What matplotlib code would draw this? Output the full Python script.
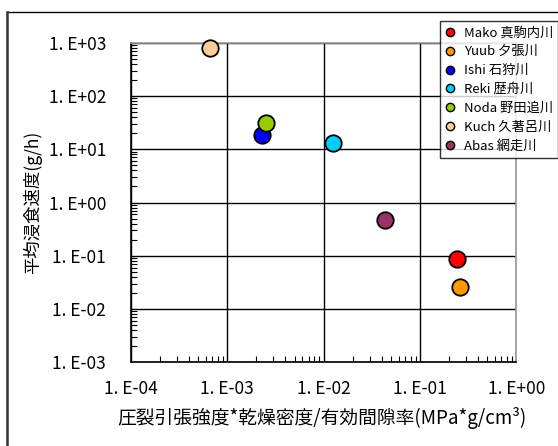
import matplotlib
matplotlib.use("Agg")
import matplotlib.pyplot as plt
from matplotlib.lines import Line2D
from matplotlib.ticker import FixedLocator, LogLocator, NullFormatter

plt.rcParams['font.family'] = ['Noto Sans CJK JP', 'DejaVu Sans']

# River sites: code, name, x value (MPa*g/cm3), mean erosion rate (g/h), colour
codes = ["Mako", "Yuub", "Ishi", "Reki", "Noda", "Kuch", "Abas"]
names = ["真駒内川", "夕張川", "石狩川", "歴舟川", "野田追川", "久著呂川", "網走川"]
strength_index = [0.241, 0.261, 0.00231, 0.0124, 0.0025, 0.00066, 0.043]
erosion_rate = [0.087, 0.0256, 18.5, 13.3, 30.7, 785.0, 0.47]
colors = ["#FF0000", "#FF9900", "#0000FF", "#00CCFF", "#99CC00", "#FFCC99", "#993366"]

x_ticks = [1e-4, 1e-3, 1e-2, 1e-1, 1e0]
x_tick_labels = ["1. E-04", "1. E-03", "1. E-02", "1. E-01", "1. E+00"]
y_ticks = [1e-3, 1e-2, 1e-1, 1e0, 1e1, 1e2, 1e3]
y_tick_labels = ["1. E-03", "1. E-02", "1. E-01", "1. E+00", "1. E+01", "1. E+02", "1. E+03"]

W, H = 558, 446
fig = plt.figure(figsize=(W / 100, H / 100), dpi=100)
ax = fig.add_axes([131 / W, 1 - 362.3 / H, (516.3 - 131) / W, (362.3 - 42.7) / H])

ax.set_xscale("log")
ax.set_yscale("log")
ax.set_xlim(x_ticks[0], x_ticks[-1])
ax.set_ylim(y_ticks[0], y_ticks[-1])

ax.xaxis.set_major_locator(FixedLocator(x_ticks))
ax.yaxis.set_major_locator(FixedLocator(y_ticks))
ax.set_xticklabels(x_tick_labels)
ax.set_yticklabels(y_tick_labels)
ax.xaxis.set_minor_locator(LogLocator(base=10, subs=range(2, 10), numticks=20))
ax.yaxis.set_minor_locator(LogLocator(base=10, subs=range(2, 10), numticks=20))
ax.xaxis.set_minor_formatter(NullFormatter())
ax.yaxis.set_minor_formatter(NullFormatter())

ax.tick_params(which="both", direction="in", colors="black", labelsize=12.5)
ax.tick_params(which="major", length=0)
ax.tick_params(which="minor", length=4, width=0.8)
ax.tick_params(axis="y", which="major", pad=18)
ax.tick_params(axis="x", which="major", pad=13)

ax.grid(True, which="major", color="black", linewidth=1.0)
ax.set_axisbelow(True)

for side in ("left", "bottom"):
    ax.spines[side].set_color("black")
    ax.spines[side].set_linewidth(1.2)
for side in ("top", "right"):
    ax.spines[side].set_color("#999999")
    ax.spines[side].set_linewidth(1.2)

for code, name, xv, yv, c in zip(codes, names, strength_index, erosion_rate, colors):
    ax.scatter([xv], [yv], s=140, color=c, edgecolor="black", linewidth=1.3,
               zorder=3, label=f"{code} {name}", clip_on=False)

ax.set_ylabel("平均浸食速度(g/h)", fontsize=12.5)
ax.yaxis.set_label_coords((33 - 131) / (516.3 - 131), 0.5)
ax.set_xlabel("圧裂引張強度*乾燥密度/有効間隙率(MPa*g/cm³)", fontsize=13.5)
ax.xaxis.set_label_coords((322 - 131) / (516.3 - 131), -(418 - 362.3) / (362.3 - 42.7))
ax.xaxis.label.set_va("center")
ax.yaxis.label.set_va("center")

handles = [Line2D([], [], linestyle="none", marker="o", markersize=6,
                  markerfacecolor=c, markeredgecolor="black", markeredgewidth=1.0)
           for c in colors]
leg = fig.legend(handles, [f"{c} {n}" for c, n in zip(codes, names)],
                 loc="upper left", bbox_to_anchor=(440 / W, 1 - 21 / H),
                 fontsize=9.5, frameon=True, fancybox=False, borderpad=0.4,
                 labelspacing=0.45, handletextpad=0.7, handlelength=0.7,
                 borderaxespad=0)
leg.get_frame().set_edgecolor("black")
leg.get_frame().set_linewidth(1.0)

# Outer chart frame (only top and left edges fall inside the image)
fig.add_artist(Line2D([7 / W, 1.0], [1 - 12 / H, 1 - 12 / H], color="black", linewidth=1.0,
                      transform=fig.transFigure))
fig.add_artist(Line2D([7 / W, 7 / W], [0.0, 1 - 12 / H], color="#333333", linewidth=1.8,
                      transform=fig.transFigure))

fig.savefig("out.png", dpi=100)
